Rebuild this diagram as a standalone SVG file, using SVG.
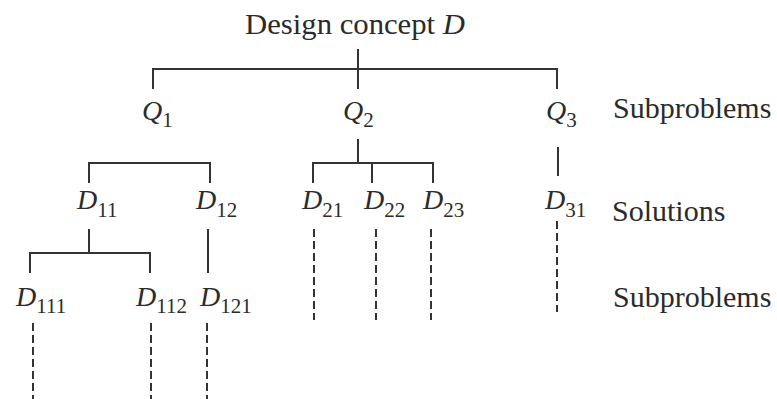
<svg xmlns="http://www.w3.org/2000/svg" width="777" height="399" viewBox="0 0 777 399">
<style>
text{font-family:"Liberation Serif","Times New Roman",serif;fill:#2b2b2b}
.lbl{font-size:30px}
.n{font-size:28px}
.i{font-style:italic}
.s{font-size:21px;font-style:normal}
.c path{fill:none;stroke:#333;stroke-width:2}
.c .d{stroke-dasharray:8 4}
</style>
<rect width="777" height="399" fill="#fff"/>
<g class="c" id="connectors">
<path d="M358,49 V89"/>
<path d="M153,89 V69 H557 V89"/>
<path d="M89,183 V163 H210 V183"/>
<path d="M358,139 V163"/>
<path d="M313,183 V163 H433 V183"/>
<path d="M372,163 V183"/>
<path d="M558,147 V176"/>
<path d="M89,229 V253"/>
<path d="M30,273 V253 H150 V273"/>
<path d="M208,229 V273"/>
<path class="d" d="M314,229 V320"/>
<path class="d" d="M376,229 V320"/>
<path class="d" d="M431,229 V320"/>
<path class="d" d="M557,221 V312"/>
<path class="d" d="M33,323 V399"/>
<path class="d" d="M151,323 V399"/>
<path class="d" d="M207,323 V399"/>
</g>
<g id="D"><text class="lbl" x="245" y="34" textLength="220" lengthAdjust="spacingAndGlyphs">Design concept <tspan class="i">D</tspan></text></g>
<g id="Q1"><text class="n" x="142" y="120"><tspan class="i">Q</tspan><tspan class="s" dy="7">1</tspan></text></g>
<g id="Q2"><text class="n" x="343" y="120"><tspan class="i">Q</tspan><tspan class="s" dy="7">2</tspan></text></g>
<g id="Q3"><text class="n" x="546" y="120"><tspan class="i">Q</tspan><tspan class="s" dy="7">3</tspan></text></g>
<g id="D11"><text class="n" x="77" y="209"><tspan class="i">D</tspan><tspan class="s" dy="8">11</tspan></text></g>
<g id="D12"><text class="n" x="196" y="209"><tspan class="i">D</tspan><tspan class="s" dy="8">12</tspan></text></g>
<g id="D21"><text class="n" x="302" y="209"><tspan class="i">D</tspan><tspan class="s" dy="8">21</tspan></text></g>
<g id="D22"><text class="n" x="364" y="209"><tspan class="i">D</tspan><tspan class="s" dy="8">22</tspan></text></g>
<g id="D23"><text class="n" x="423" y="209"><tspan class="i">D</tspan><tspan class="s" dy="8">23</tspan></text></g>
<g id="D31"><text class="n" x="545" y="209"><tspan class="i">D</tspan><tspan class="s" dy="8">31</tspan></text></g>
<g id="D111"><text class="n" x="16" y="306"><tspan class="i">D</tspan><tspan class="s" dy="7">111</tspan></text></g>
<g id="D112"><text class="n" x="136" y="306"><tspan class="i">D</tspan><tspan class="s" dy="7">112</tspan></text></g>
<g id="D121"><text class="n" x="200" y="306"><tspan class="i">D</tspan><tspan class="s" dy="7">121</tspan></text></g>
<g id="labels">
<text class="lbl" x="613" y="118">Subproblems</text>
<text class="lbl" x="612" y="221">Solutions</text>
<text class="lbl" x="613" y="307">Subproblems</text>
</g>
</svg>
